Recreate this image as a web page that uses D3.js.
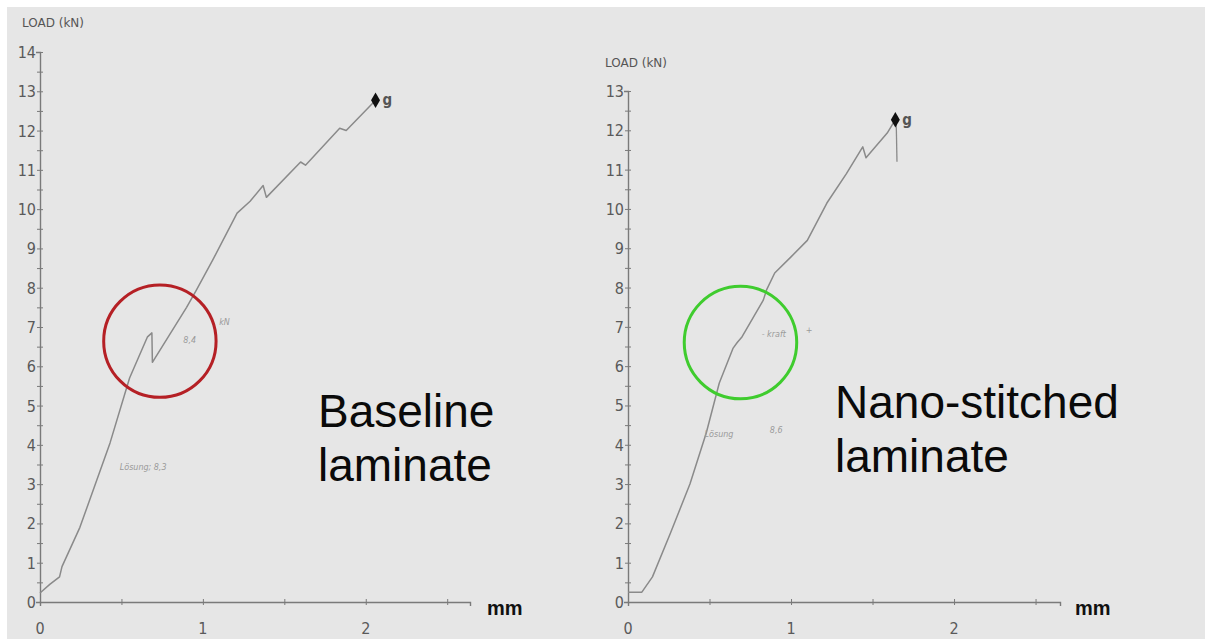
<!DOCTYPE html>
<html><head><meta charset="utf-8">
<script src="https://cdn.jsdelivr.net/npm/d3@7"></script>
<style>
html,body{margin:0;padding:0;background:#fff;}
svg{display:block;}
</style></head>
<body>
<svg id="chart" width="1205" height="639"></svg>
<script>
// ---- data ----
const yTicksLeft = [0,1,2,3,4,5,6,7,8,9,10,11,12,13,14];
const yTicksRight = [0,1,2,3,4,5,6,7,8,9,10,11,12,13];
const xTicks = [0,1,2];
const baselineX = [0,0.06,0.12,0.135,0.245,0.43,0.55,0.66,0.687,0.69,0.9,0.96,1.06,1.21,1.29,1.37,1.39,1.6,1.63,1.84,1.88,2.02,2.06];
const baselineY = [0.23,0.45,0.64,0.9,1.9,4.05,5.7,6.75,6.85,6.1,7.5,7.94,8.7,9.9,10.2,10.6,10.3,11.2,11.12,12.06,12.0,12.6,12.77];
const nanoX = [0,0.085,0.15,0.26,0.38,0.48,0.56,0.645,0.67,0.70,0.83,0.85,0.9,1.0,1.1,1.22,1.34,1.44,1.46,1.59,1.64];
const nanoY = [0.25,0.25,0.64,1.75,3.0,4.3,5.57,6.46,6.6,6.75,7.68,7.94,8.37,8.78,9.2,10.15,10.9,11.58,11.3,11.93,12.27];
const nanoDropX = [1.645,1.65];
const nanoDropY = [12.27,11.2];
const panelTitles = ["Baseline\nlaminate","Nano-stitched\nlaminate"];
const circleCenters = [[0.736,6.64],[0.69,6.6]];
const circleColors = ["#b52025","#3fcc2e"];
const notes = [
  [["Lösung; 8,3",0.49,3.35],["8,4",0.88,6.6],["kN",1.1,7.05]],
  [["Lösung",0.47,4.2],["8,6",0.87,4.3],["- kraft",0.82,6.75],["+",1.09,6.85]]
];

const svg = d3.select("#chart");
const W = 1205, H = 639;
svg.append("rect").attr("width",W).attr("height",H).attr("fill","#ffffff");
svg.append("rect").attr("x",7).attr("y",7).attr("width",W-7).attr("height",H-7).attr("fill","#e6e6e6");

const tickFont = "'Liberation Sans Narrow','DejaVu Sans Condensed','Liberation Sans',sans-serif";

const panels = [
  {xr:[40,470], xd:[0,2.64], yd:[0,14], yr:[602,52], yTicks:yTicksLeft, xs:baselineX, ys:baselineY, labelX:22, labelY:27, titleX:318, titleY:427, mmX:487},
  {xr:[628,1060], xd:[0,2.65], yd:[0,13], yr:[602,91], yTicks:yTicksRight, xs:nanoX, ys:nanoY, labelX:605, labelY:67, titleX:835, titleY:418, mmX:1075}
];

panels.forEach((p,i)=>{
  const x = d3.scaleLinear().domain(p.xd).range(p.xr);
  const y = d3.scaleLinear().domain(p.yd).range(p.yr);
  const g = svg.append("g");
  const axisColor = "#7a7a7a";

  // x axis
  const xa = g.append("g").attr("transform",`translate(0,${y(0)})`)
    .call(d3.axisBottom(x).tickValues(d3.range(0,p.xd[1],0.5)).tickSize(4).tickFormat(""));
  xa.select(".domain").attr("stroke",axisColor).attr("stroke-width",1.4);
  xa.selectAll(".tick line").attr("stroke",axisColor).attr("y1",-3).attr("y2",3);
  const xl = g.append("g").attr("transform",`translate(0,${y(0)+32})`);
  xl.selectAll("text").data(xTicks).join("text")
    .attr("x",d=>x(d)).attr("y",0).attr("text-anchor","middle")
    .attr("font-family",tickFont).attr("font-size",16).attr("fill","#5a5a5a").text(d=>d);

  // y axis
  const ya = g.append("g").attr("transform",`translate(${x(0)},0)`)
    .call(d3.axisLeft(y).tickValues(d3.range(0,p.yd[1]+0.01,0.5)).tickSize(4).tickFormat(""));
  ya.select(".domain").attr("stroke",axisColor).attr("stroke-width",1.4);
  ya.selectAll(".tick line").attr("stroke",axisColor).attr("x1",-3).attr("x2",3);
  g.append("g").selectAll("text").data(p.yTicks).join("text")
    .attr("x",x(0)-4).attr("y",d=>y(d)+6).attr("text-anchor","end")
    .attr("font-family",tickFont).attr("font-size",16).attr("fill","#5a5a5a").text(d=>d);

  // axis label
  g.append("text").attr("x",p.labelX).attr("y",p.labelY)
    .attr("font-family",tickFont).attr("font-size",12).attr("fill","#555")
    .attr("textLength",62).attr("lengthAdjust","spacingAndGlyphs").text("LOAD (kN)");
  g.append("text").attr("x",p.mmX).attr("y",y(0)+13)
    .attr("font-family","Liberation Sans, Arial, sans-serif").attr("font-weight","bold")
    .attr("font-size",20).attr("fill","#111").text("mm");

  // curve
  const pts = p.xs.map((v,k)=>[v,p.ys[k]]);
  const line = d3.line().x(d=>x(d[0])).y(d=>y(d[1]));
  g.append("path").datum(pts).attr("d",line).attr("fill","none")
    .attr("stroke","#8a8a8a").attr("stroke-width",1.5).attr("stroke-linejoin","round");
  if(i===1){
    g.append("path").datum(nanoDropX.map((v,k)=>[v,nanoDropY[k]])).attr("d",line)
      .attr("fill","none").attr("stroke","#8a8a8a").attr("stroke-width",1.3);
  }
  const last = pts[pts.length-1];
  g.append("path").attr("d",d3.symbol(d3.symbolDiamond,70)())
    .attr("transform",`translate(${x(last[0])},${y(last[1])})`).attr("fill","#111");
  g.append("text").attr("x",x(last[0])+7).attr("y",y(last[1])+5)
    .attr("font-family",tickFont).attr("font-size",15).attr("font-weight","bold").attr("fill","#555").text("g");

  // handwritten notes
  g.selectAll("text.note").data(notes[i]).join("text").attr("class","note")
    .attr("x",d=>x(d[1])).attr("y",d=>y(d[2]))
    .attr("font-family","DejaVu Sans, sans-serif").attr("font-style","italic")
    .attr("font-size",8).attr("fill","#9a9a9a").text(d=>d[0]);

  // highlight circle
  const c = circleCenters[i];
  g.append("circle").attr("cx",x(c[0])).attr("cy",y(c[1]))
    .attr("r",x(0.345)-x(0)).attr("fill","none")
    .attr("stroke",circleColors[i]).attr("stroke-width",3);

  // title
  const t = g.append("text").attr("x",p.titleX).attr("y",p.titleY)
    .attr("font-family","Liberation Sans, Arial, sans-serif").attr("font-size",46).attr("fill","#0a0a0a");
  panelTitles[i].split("\n").forEach((s,k)=>{
    t.append("tspan").attr("x",p.titleX).attr("dy",k?54:0).text(s);
  });
});
</script>
</body></html>
